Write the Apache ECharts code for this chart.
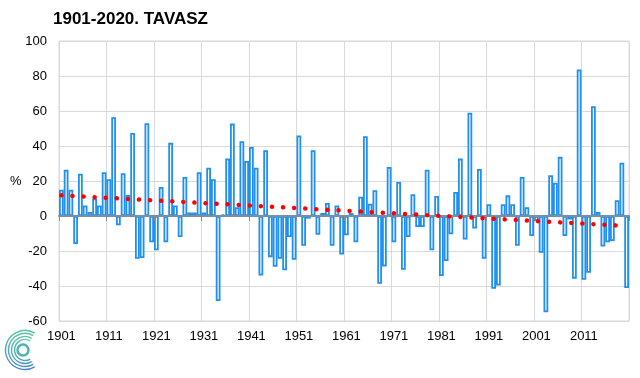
<!DOCTYPE html>
<html>
<head>
<meta charset="utf-8">
<script src="https://cdn.jsdelivr.net/npm/echarts@6/dist/echarts.min.js"></script>
<style>
html,body{margin:0;padding:0;background:#fff;}
#c{width:640px;height:378px;}
</style>
</head>
<body>
<div id="c"></div>
<script>
var titleText = '1901-2020. TAVASZ';
var yUnit = '%';
var firstYear = 1901;
var lastYear = 2020;
var years = [];
for (var y = firstYear; y <= lastYear; y++) years.push(String(y));

var values = [
  15, 26.5, 15, -16, 24.2, 6, 2.3, 10, 6, 25,
  21, 56.5, -5.3, 24.5, 12, 47.5, -24.4, -24, 53, -15,
  -19.6, 16.6, -15, 41.8, 6, -12, 22.3, 2, 2, 25,
  2, 27.6, 21, -48.6, 1, 32.8, 52.8, 5, 42.7, 31.5,
  39.5, 27.6, -34, 37.6, -23.5, -29, -24.4, -31, -12, -25,
  46, -17, -1.5, 37.6, -10.7, 1.7, 7.4, -17, 6, -22,
  -11, 1.7, -15, 11, 45.6, 7, 14.7, -38.7, -28.8, 28,
  -15, 19.5, -30.7, -12, 12.4, -6.3, -6.3, 26.5, -19.6, 11.4,
  -34.3, -25.7, -10.5, 13.7, 32.8, -13.5, 59, -7.2, 26.9, -24.4,
  6.7, -41.6, -39.7, 6.7, 11.8, 6.7, -17, 22.3, 5, -11.4,
  -3, -21, -55, 23.3, 19, 33.8, -11.4, -2, -35.8, 83.7,
  -36.4, -32.4, 62.7, 2.3, -17.5, -15, -14.3, 9, 30.5, -41.2
];

// linear trend end points
var trendStart = 11.8;
var trendEnd = -5.7;

var yMin = -60, yMax = 100, yStep = 20;

var chart = echarts.init(document.getElementById('c'), null, {renderer: 'canvas'});
var font = 'Liberation Sans, Arial, sans-serif';

function arcRing(r, w, col1, col2) {
  return {
    type: 'arc',
    shape: {cx: 25, cy: 350, r: r, startAngle: Math.PI / 3, endAngle: Math.PI * 5 / 3, clockwise: true},
    style: {
      fill: null,
      lineWidth: w,
      stroke: new echarts.graphic.LinearGradient(0, 1, 0, 0, [
        {offset: 0, color: col1}, {offset: 1, color: col2}
      ])
    }
  };
}

chart.setOption({
  animation: false,
  backgroundColor: '#fff',
  grid: {left: 59, right: 11, top: 41, bottom: 57, show: true, borderColor: '#d9d9d9', borderWidth: 1, backgroundColor: 'transparent'},
  xAxis: [{
    type: 'category',
    data: years,
    position: 'bottom',
    axisLine: {show: false, onZero: false},
    axisTick: {show: false},
    axisLabel: {interval: 9, color: '#000', fontSize: 13, fontFamily: font, margin: 9},
    splitLine: {show: true, interval: 9, lineStyle: {color: '#d9d9d9', width: 1}}
  }, {
    type: 'category',
    data: years,
    position: 'bottom',
    z: 10,
    axisLine: {show: true, onZero: true, lineStyle: {color: '#7f8c9d', width: 2}},
    axisTick: {show: true, interval: 9, length: 5, lineStyle: {color: '#7f8c9d', width: 1}},
    axisLabel: {show: false},
    splitLine: {show: false}
  }],
  yAxis: {
    type: 'value',
    min: yMin, max: yMax, interval: yStep,
    axisLine: {show: false},
    axisTick: {show: false},
    axisLabel: {color: '#000', fontSize: 13, fontFamily: font, margin: 12},
    splitLine: {lineStyle: {color: '#d9d9d9', width: 1}}
  },
  series: [{
    type: 'bar',
    xAxisIndex: 0,
    data: values,
    barCategoryGap: '0%',
    z: 2,
    itemStyle: {color: '#ffffff', borderColor: '#1f90f0', borderWidth: 1.8}
  }, {
    type: 'line',
    xAxisIndex: 0,
    z: 20,
    data: [[years[0], trendStart], [years[years.length - 1], trendEnd]],
    showSymbol: false,
    symbol: 'none',
    lineStyle: {color: '#ff0000', width: 4.5, type: [0.1, 11], cap: 'round'}
  }],
  graphic: [
    {type: 'text', left: 53, top: 11, style: {text: titleText, fill: '#000', font: 'bold 17px ' + font}},
    {type: 'text', left: 10, top: 175, style: {text: yUnit, fill: '#000', font: '13px ' + font}},
    {type: 'group', children: [
      arcRing(19.5, 1.4, '#3f7fc8', '#5cc9a0'),
      arcRing(16.5, 1.4, '#3f8ac8', '#5cc9a0'),
      arcRing(13.5, 1.4, '#4595c4', '#5cc9a0'),
      arcRing(10.5, 1.4, '#4aa0c0', '#5cc9a0'),
      {type: 'circle', shape: {cx: 23, cy: 350, r: 5.5}, style: {fill: null, stroke: '#4fb3b0', lineWidth: 2.5}}
    ]}
  ]
});
</script>
</body>
</html>
